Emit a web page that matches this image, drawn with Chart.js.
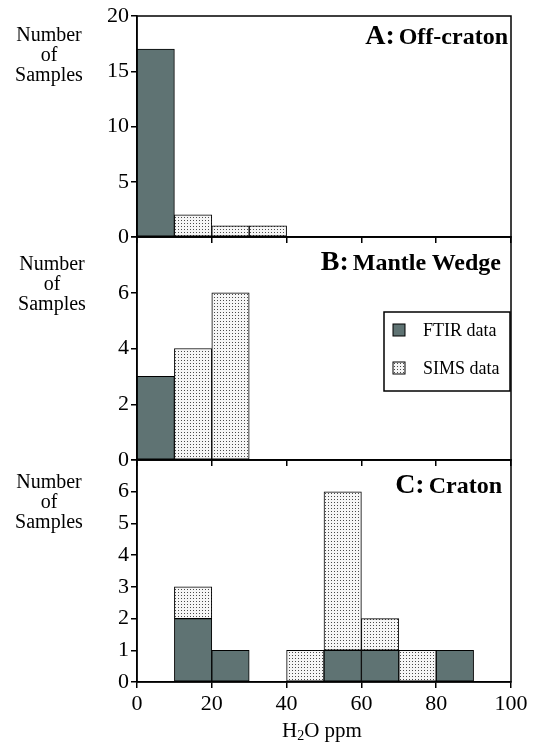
<!DOCTYPE html>
<html>
<head>
<meta charset="utf-8">
<title>H2O histograms</title>
<script src="https://cdn.jsdelivr.net/npm/chart.js@4.4.1/dist/chart.umd.min.js"></script>
<style>
  body {
    margin: 0;
    background: #fff;
    width: 545px;
    height: 745px;
    position: relative;
    overflow: hidden;
    font-family: 'Liberation Serif', 'Times New Roman', serif;
    color: #000;
  }
  canvas { position: absolute; left: 0; }
  .ylab {
    position: absolute;
    left: 0;
    width: 98px;
    text-align: center;
    font-size: 20px;
    line-height: 20px;
  }
  .ttl {
    position: absolute;
    font-weight: bold;
    white-space: nowrap;
    line-height: 28px;
  }
  .ttl .big { font-size: 28px; }
  .ttl .name { font-size: 24px; }
  #xTitle {
    position: absolute;
    left: 262px;
    width: 120px;
    top: 719px;
    text-align: center;
    font-size: 21px;
    line-height: 22px;
  }
  #xTitle sub { font-size: 14px; vertical-align: -3px; line-height: 0; }
</style>
</head>
<body>

<canvas id="chartA" width="545" height="260" style="top:0px"></canvas>
<canvas id="chartB" width="545" height="256" style="top:227px"></canvas>
<canvas id="chartC" width="545" height="272" style="top:450px"></canvas>

<div class="ylab" style="top:24px">Number<br>of<br>Samples</div>
<div class="ylab" style="top:253px; left:3px">Number<br>of<br>Samples</div>
<div class="ylab" style="top:471px">Number<br>of<br>Samples</div>

<div class="ttl" style="top:21px; right:37px"><span class="big">A:</span> <span class="name">Off-craton</span></div>
<div class="ttl" style="top:247px; right:44px"><span class="big">B:</span> <span class="name">Mantle Wedge</span></div>
<div class="ttl" style="top:470px; right:43px"><span class="big">C:</span> <span class="name">Craton</span></div>

<div id="xTitle">H<sub>2</sub>O ppm</div>

<script>
// 10 ppm bins from 0 to 100
const binLabels = ['0-10', '10-20', '20-30', '30-40', '40-50', '50-60', '60-70', '70-80', '80-90', '90-100'];

// A: Off-craton
const offCratonFtir = [17, null, null, null, null, null, null, null, null, null];
const offCratonSims = [null, 2, 1, 1, null, null, null, null, null, null];

// B: Mantle Wedge
const wedgeFtir = [3, null, null, null, null, null, null, null, null, null];
const wedgeSims = [null, 4, 6, null, null, null, null, null, null, null];

// C: Craton (SIMS counts sit on top of FTIR counts)
const cratonFtir = [null, 2, 1, null, null, 1, 1, null, 1, null];
const cratonSims = [null, 1, null, null, 1, 5, 1, 1, null, null];

const INK = '#000';
const FTIR_COLOR = '#5f7373';
const FONT = "'Liberation Serif', 'Times New Roman', serif";

// dotted fill used for the SIMS bars
function stipple() {
    const c = document.createElement('canvas');
    c.width = 3;
    c.height = 3;
    const g = c.getContext('2d');
    g.fillStyle = '#f6f6f6';
    g.fillRect(0, 0, 3, 3);
    g.fillStyle = '#4a4a4a';
    g.fillRect(1, 1, 1, 1);
    return g.createPattern(c, 'repeat');
}
const SIMS_FILL = stipple();

// box round the plot area, drawn over the bars
const frame = {
    id: 'frame',
    afterDatasetsDraw(chart) {
        const { ctx, chartArea: a } = chart;
        ctx.save();
        ctx.strokeStyle = INK;
        ctx.lineWidth = 1.5;
        ctx.strokeRect(a.left, a.top, a.right - a.left, a.bottom - a.top);
        ctx.restore();
    }
};

// framed legend inside the plot area
const boxLegend = {
    id: 'boxLegend',
    afterDraw(chart, args, o) {
        if (!o.show) return;
        const { ctx, chartArea: a } = chart;
        const left = a.right - 127;
        const top = a.top + 75;
        ctx.save();
        ctx.strokeStyle = INK;
        ctx.lineWidth = 1.5;
        ctx.fillStyle = '#fff';
        ctx.fillRect(left, top, 126, 79);
        ctx.strokeRect(left, top, 126, 79);
        ctx.font = '18px ' + FONT;
        ctx.textBaseline = 'middle';
        chart.data.datasets.forEach((ds, i) => {
            const y = a.top + 93 + i * 38;
            ctx.fillStyle = ds.backgroundColor;
            ctx.fillRect(left + 9, y - 6, 12, 12);
            ctx.lineWidth = 1;
            ctx.strokeRect(left + 9, y - 6, 12, 12);
            ctx.fillStyle = INK;
            ctx.fillText(ds.label, left + 39, y + 1);
        });
        ctx.restore();
    }
};

function panel(id, ftir, sims, yMax, yStep, o) {
    const tickFont = { family: FONT, size: 22 };
    return new Chart(document.getElementById(id), {
        type: 'bar',
        data: {
            labels: binLabels,
            datasets: [
                { label: 'FTIR data', data: ftir, backgroundColor: FTIR_COLOR },
                { label: 'SIMS data', data: sims, backgroundColor: SIMS_FILL }
            ]
        },
        options: {
            responsive: false,
            animation: false,
            events: [],
            layout: { padding: { top: o.padTop, right: 34, left: 0, bottom: 0 } },
            datasets: {
                bar: {
                    barPercentage: 1,
                    categoryPercentage: 1,
                    borderColor: INK,
                    borderWidth: 1,
                    borderSkipped: false
                }
            },
            plugins: {
                legend: { display: false },
                tooltip: { enabled: false },
                boxLegend: { show: !!o.legend }
            },
            scales: {
                x: { type: 'category', stacked: true, display: false },
                xv: {
                    type: 'linear',
                    position: 'bottom',
                    min: 0,
                    max: 100,
                    offset: false,
                    ticks: { stepSize: 20, display: !!o.xLabels, font: tickFont, color: INK, padding: 3, maxRotation: 0 },
                    grid: { offset: false, drawOnChartArea: false, tickLength: 6, color: INK, lineWidth: 1.5 },
                    border: { color: INK, width: 1.5 },
                    afterFit(s) {
                        s.height = o.xHeight;
                        s.paddingLeft = 0;
                        s.paddingRight = 0;
                    }
                },
                y: {
                    stacked: true,
                    min: 0,
                    max: yMax,
                    ticks: {
                        stepSize: yStep,
                        font: tickFont,
                        color: INK,
                        padding: 2,
                        callback: v => (v === yMax && o.hideTop) ? '' : v
                    },
                    grid: { drawOnChartArea: false, tickLength: 6, color: INK, lineWidth: 1.5 },
                    border: { color: INK, width: 1.5 },
                    afterFit(s) {
                        s.width = 137;
                        s.paddingTop = 0;
                        s.paddingBottom = 0;
                    }
                }
            }
        },
        plugins: [frame, boxLegend]
    });
}

panel('chartA', offCratonFtir, offCratonSims, 20, 5, { padTop: 16, xHeight: 23 });
panel('chartB', wedgeFtir, wedgeSims, 8, 2, { padTop: 10, xHeight: 23, hideTop: true, legend: true });
panel('chartC', cratonFtir, cratonSims, 7, 1, { padTop: 10, xHeight: 40, hideTop: true, xLabels: true });
</script>
</body>
</html>
